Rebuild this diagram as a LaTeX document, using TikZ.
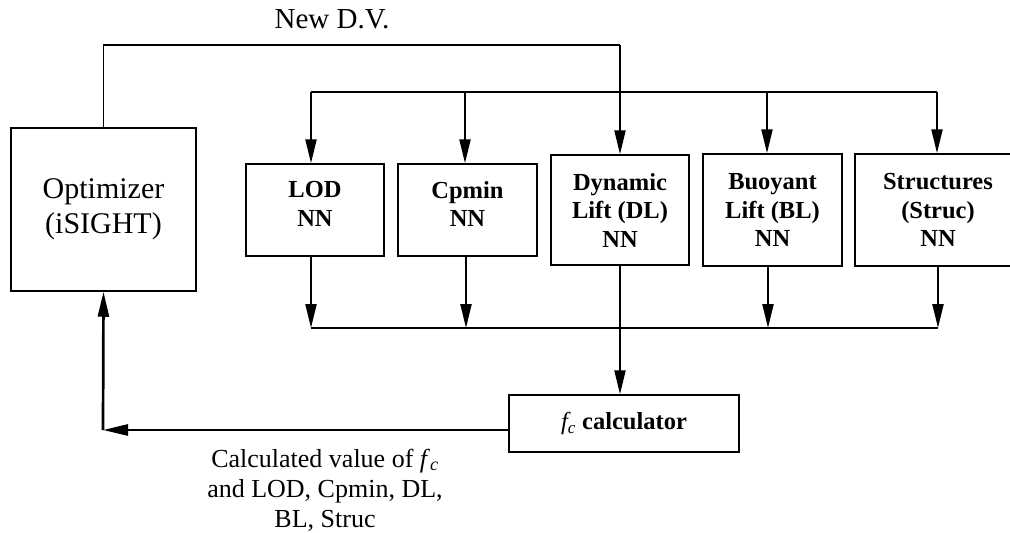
\documentclass[tikz,border=0pt]{standalone}
\usepackage{fontspec}
\setmainfont{Liberation Serif}
\usetikzlibrary{arrows.meta}
\begin{document}
\begin{tikzpicture}[x=1pt,y=-1pt,
  box/.style={draw, line width=1.5pt, inner sep=0pt, align=center},
  nnfont/.style={font=\fontsize{24.5}{28.5}\selectfont\bfseries},
  arr/.style={line width=2.2pt, -{Triangle[length=24pt,width=11pt]}},
  bus/.style={line width=1.3pt},
  retarr/.style={line width=2.7pt, -{Triangle[length=25pt,width=11pt]}}]
\clip (0,0) rectangle (1010,533);
\fill[white] (0,0) rectangle (1010,533);
% boxes
\node[box, minimum width=185pt, minimum height=163pt, font=\fontsize{30}{35}\selectfont] (opt) at (103.5,209.5) {Optimizer\\(iSIGHT)};
\node[box, nnfont, minimum width=138pt, minimum height=92pt, text depth=12pt] (lod) at (315,210) {LOD\\NN};
\node[box, nnfont, minimum width=139pt, minimum height=92pt, text depth=12pt] (cpm) at (467.5,210) {Cpmin\\NN};
\node[box, nnfont, minimum width=138pt, minimum height=110pt] (dyn) at (620,210) {Dynamic\\Lift (DL)\\NN};
\node[box, nnfont, minimum width=139pt, minimum height=112pt] (buo) at (772.5,210) {Buoyant\\Lift (BL)\\NN};
\node[box, nnfont, minimum width=166pt, minimum height=112pt] (str) at (938,210) {Structures\\(Struc)\\NN};
\node[box, nnfont, minimum width=230pt, minimum height=57pt] (fc) at (624,423.5) {{\normalfont\itshape f\textsubscript{c}} calculator};
% texts
\node[font=\fontsize{29}{34}\selectfont, anchor=base, inner sep=0pt] (ndv) at (332,28) {New D.V.};
\node[font=\fontsize{26}{30}\selectfont, align=center, inner sep=0pt] (lbl) at (325,490) {Calculated value of \textit{f}\textsubscript{\textit{c}}\\and LOD, Cpmin, DL,\\BL, Struc};
% coordinates
\coordinate (dvc) at (620,45);
\coordinate (t1) at (311,92);
\coordinate (t2) at (465,92);
\coordinate (t4) at (767,92);
\coordinate (t5) at (937,92);
\coordinate (b1) at (311,328);
\coordinate (b2) at (466,328);
\coordinate (b4) at (768,328);
\coordinate (b5) at (938,328);
\coordinate (rc) at (103,430);
% new design variables
\draw[bus] (opt.north) |- (dvc);
\draw[arr] (dvc) -- (dyn.north);
\draw[bus] (t1) -- (t5);
\draw[arr] (t1) -- (t1 |- lod.north);
\draw[arr] (t2) -- (t2 |- cpm.north);
\draw[arr] (t4) -- (t4 |- buo.north);
\draw[arr] (t5) -- (t5 |- str.north);
% outputs
\draw[bus] (b1) -- (b5);
\draw[arr] (b1 |- lod.south) -- (b1);
\draw[arr] (b2 |- cpm.south) -- (b2);
\draw[arr] (b4 |- buo.south) -- (b4);
\draw[arr] (b5 |- str.south) -- (b5);
\draw[arr] (dyn.south) -- (dyn.south |- fc.north);
% return
\draw[retarr] (fc.west |- rc) -- (rc);
\draw[retarr] (rc) -- (opt.south);
\end{tikzpicture}
\end{document}
